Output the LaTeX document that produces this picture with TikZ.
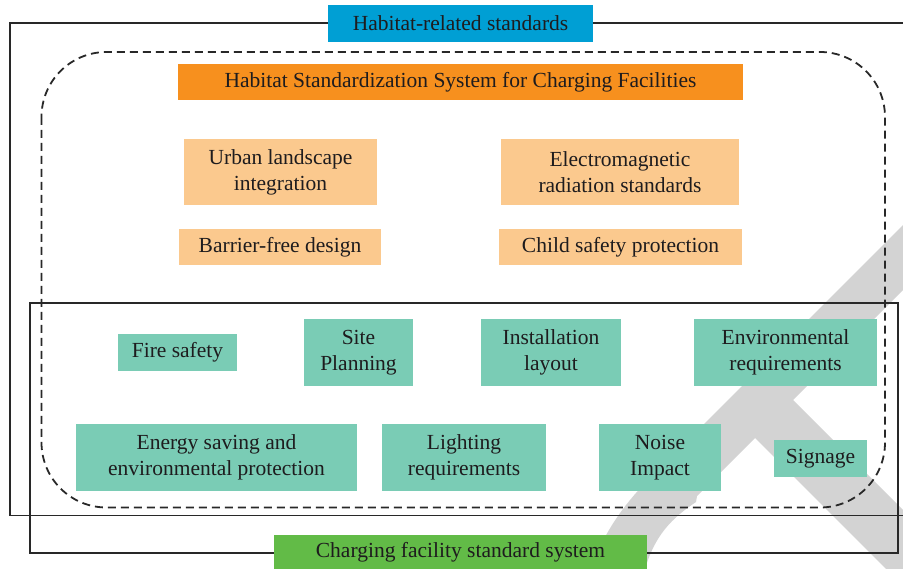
\documentclass[tikz,border=0pt]{standalone}
\usepackage{fontspec}
\setmainfont{Liberation Serif}
\definecolor{colBlue}{RGB}{0,159,212}
\definecolor{colOrange}{RGB}{247,144,30}
\definecolor{colPeach}{RGB}{251,201,142}
\definecolor{colTeal}{RGB}{122,204,181}
\definecolor{colGreen}{RGB}{98,187,71}
\definecolor{colGray}{RGB}{211,211,211}
\definecolor{colLine}{RGB}{40,40,40}
\definecolor{colTxt}{RGB}{30,28,30}
\tikzset{
  lbl/.style={rectangle, inner sep=0pt, align=center, text=colTxt,
    font=\fontsize{21.5}{26}\selectfont},
  peach/.style={lbl, fill=colPeach},
  tealbox/.style={lbl, fill=colTeal},
  frame/.style={draw=colLine, line width=1.6pt},
  dashframe/.style={draw=colLine, line width=1.8pt, dash pattern=on 8pt off 5pt, rounded corners=65pt},
}
\begin{document}
\begin{tikzpicture}[x=1pt,y=-1pt]
\useasboundingbox (0,0) rectangle (903,569);
% watermark shape
\fill[colGray] (903,225) -- (650,478) .. controls (620,508) and (600,540) .. (592,569)
  -- (645,569) .. controls (655,535) and (672,518) .. (696,502) -- (697,496) -- (755,438)
  -- (886,569) -- (903,569) -- (903,510) -- (793,400) -- (903,290) -- cycle;
% frames
\draw[frame] (903,23) -- (10,23) -- (10,515.5) -- (903,515.5);
\draw[frame] (30,303) rectangle (898,553);
\draw[dashframe] (41.5,52) rectangle (885,507.5);
% labels
\node[lbl, fill=colBlue, minimum width=265pt, minimum height=37pt] (hab) at (460.5,23.5) {Habitat-related standards};
\node[lbl, fill=colOrange, minimum width=565pt, minimum height=36pt] (hss) at (460.5,82) {Habitat Standardization System for Charging Facilities};
\node[peach, minimum width=193pt, minimum height=66pt] (urban) at (280.5,172) {Urban landscape\\integration};
\node[peach, minimum width=238pt, minimum height=66pt] (emr) at (620,172) {Electromagnetic\\radiation standards};
\node[peach, minimum width=202pt, minimum height=36pt] (bfd) at (280,247) {Barrier-free design};
\node[peach, minimum width=243pt, minimum height=36pt] (csp) at (620.5,247) {Child safety protection};
\node[tealbox, minimum width=119pt, minimum height=37pt] (fire) at (177.5,352.5) {Fire safety};
\node[tealbox, minimum width=109pt, minimum height=67pt] (site) at (358.5,352.5) {Site\\Planning};
\node[tealbox, minimum width=140pt, minimum height=67pt] (inst) at (551,352.5) {Installation\\layout};
\node[tealbox, minimum width=183pt, minimum height=67pt] (env) at (785.5,352.5) {Environmental\\requirements};
\node[tealbox, minimum width=281pt, minimum height=67pt] (energy) at (216.5,457.5) {Energy saving and\\environmental protection};
\node[tealbox, minimum width=164pt, minimum height=67pt] (light) at (464,457.5) {Lighting\\requirements};
\node[tealbox, minimum width=122pt, minimum height=67pt] (noise) at (660,457.5) {Noise\\Impact};
\node[tealbox, minimum width=93pt, minimum height=37pt] (sign) at (820.5,458.5) {Signage};
\node[lbl, fill=colGreen, minimum width=373pt, minimum height=35pt] (cfs) at (460.5,552.5) {Charging facility standard system};
\end{tikzpicture}
\end{document}
